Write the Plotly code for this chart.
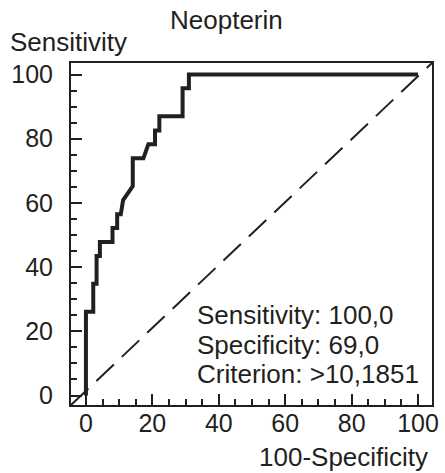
import plotly.graph_objects as go

# ROC curve points (100-Specificity, Sensitivity)
fpr = [0, 0, 2.2, 2.2, 3.2, 3.2, 4.2, 4.2, 8.0, 8.0, 9.4, 9.4, 10.5, 11.2, 14.1, 14.1,
       17.3, 18.8, 20.8, 20.8, 22.1, 22.1, 29.1, 29.1, 31.0, 31.0, 100]
tpr = [0, 26.1, 26.1, 34.8, 34.8, 43.5, 43.5, 47.8, 47.8, 52.2, 52.2, 56.5, 56.5, 60.9, 65.2, 73.9,
       73.9, 78.3, 78.3, 82.6, 82.6, 87.0, 87.0, 95.7, 95.7, 100, 100]

tick_vals = [0, 20, 40, 60, 80, 100]
tick_text = ["0", "20", "40", "60", "80", "100"]

title_text = "Neopterin"
y_title = "Sensitivity"
x_title = "100-Specificity"
stats_lines = ["Sensitivity: 100,0", "Specificity: 69,0", "Criterion: >10,1851"]

INK = "#231f20"
FONT = "Liberation Sans, Arial, Helvetica, sans-serif"
FS_TICK = 25
FS_TEXT = 26

fig = go.Figure()
fig.add_trace(go.Scatter(x=fpr, y=tpr, mode="lines",
                         line=dict(color=INK, width=4), showlegend=False,
                         hoverinfo="skip"))

# diagonal reference line, corner to corner
fig.add_shape(type="line", xref="x domain", yref="y domain", x0=0, y0=0, x1=1, y1=1,
              line=dict(color=INK, width=2, dash="24px,11px"))

axis_common = dict(
    showgrid=False, zeroline=False, showline=True, linewidth=2, linecolor=INK,
    mirror=True, ticks="inside", ticklen=11, tickwidth=2, tickcolor=INK,
    tickvals=tick_vals, ticktext=tick_text, automargin=False,
    tickfont=dict(family=FONT, size=FS_TICK, color=INK),
    minor=dict(ticks="inside", ticklen=6, tickwidth=2, tickcolor=INK, dtick=5, tick0=0,
               showgrid=False),
    fixedrange=True,
)

fig.update_layout(
    width=445, height=473,
    margin=dict(l=71, r=13, t=63, b=68),
    paper_bgcolor="white", plot_bgcolor="white",
    font=dict(family=FONT, size=FS_TEXT, color=INK),
    xaxis=dict(range=[-4.5, 104.2], ticklabelstandoff=-5, **axis_common),
    yaxis=dict(range=[-2.96, 103.6], ticklabelstandoff=11, **axis_common),
)

def ann(text, x, y, xanchor):
    fig.add_annotation(text=text, x=x, y=y, xref="paper", yref="paper",
                       xanchor=xanchor, yanchor="middle", showarrow=False,
                       font=dict(family=FONT, size=FS_TEXT, color=INK))

ann(title_text, 0.432, 1.126, "center")
ann(y_title, -0.1745, 1.061, "left")
ann(x_title, 0.994, -0.152, "right")
for line, yy in zip(stats_lines, [0.263, 0.175, 0.0906]):
    ann(line, 0.3435, yy, "left")

fig.write_html("out.html", config={"displayModeBar": False, "staticPlot": True},
               post_script="document.body.style.margin='0';document.body.style.overflow='hidden';")
